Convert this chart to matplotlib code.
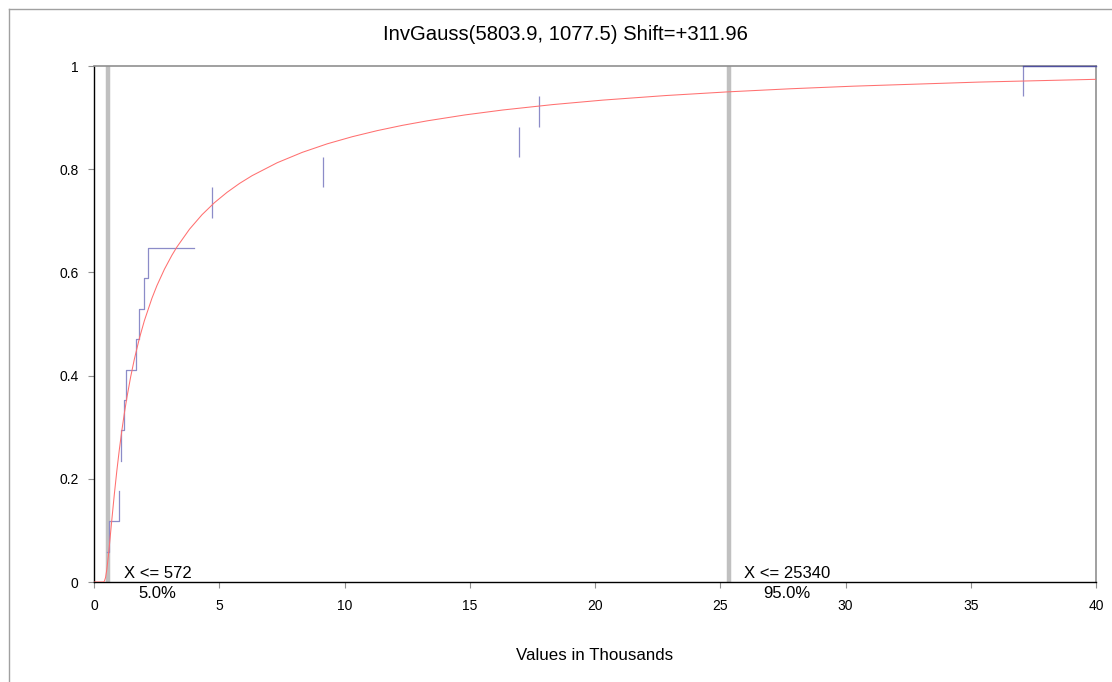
import matplotlib
matplotlib.use("Agg")
import matplotlib.pyplot as plt
from matplotlib.lines import Line2D

plt.rcParams['font.family'] = ['Liberation Sans', 'DejaVu Sans']

title = "InvGauss(5803.9, 1077.5) Shift=+311.96"
xlabel = "Values in Thousands"

# Fitted CDF (red), x in thousands
fit_x = [0, 0.312, 0.362, 0.412, 0.462, 0.512, 0.572, 0.612, 0.712, 0.812, 0.912,
         1.012, 1.112, 1.212, 1.312, 1.462, 1.612, 1.812, 2.012, 2.312, 2.512, 2.812, 3.112,
         3.312, 3.812, 4.312, 4.812, 5.312, 5.812, 6.312, 7.312, 8.312, 9.312, 10.312,
         11.312, 12.312, 13.312, 14.812, 16.312, 18.312, 20.312, 22.812, 25.312, 27.812,
         30.312, 35.312, 40]
fit_y = [0, 0, 0.0000, 0.0012, 0.0088, 0.0244, 0.0501, 0.0697, 0.1208, 0.1702, 0.2157,
         0.2568, 0.2938, 0.3271, 0.3572, 0.3972, 0.4321, 0.4723, 0.5066, 0.5498, 0.5744, 0.6062,
         0.6334, 0.6494, 0.6837, 0.7118, 0.7353, 0.7552, 0.7725, 0.7875, 0.8125, 0.8326, 0.8492,
         0.8630, 0.8748, 0.8850, 0.8938, 0.9052, 0.9147, 0.9252, 0.9339, 0.9427, 0.9499, 0.9559,
         0.9609, 0.9688, 0.9742]

# Empirical CDF (blue) visible step pieces
step1_x = [0.50, 0.60, 0.60, 1.01, 1.01]
step1_y = [0.0588, 0.0588, 0.1176, 0.1176, 0.1765]
step2_x = [1.09, 1.09, 1.18, 1.18, 1.27, 1.27, 1.37, 1.68, 1.68, 1.80, 1.80, 2.00, 2.00, 2.17, 2.17, 3.99]
step2_y = [0.2353, 0.2941, 0.2941, 0.3529, 0.3529, 0.4118, 0.4118, 0.4118, 0.4706, 0.4706,
           0.5294, 0.5294, 0.5882, 0.5882, 0.6471, 0.6471]
tick_x = [4.70, 9.15, 16.98, 17.78, 37.09]
tick_lo = [0.7059, 0.7647, 0.8235, 0.8824, 0.9412]
tick_hi = [0.7647, 0.8235, 0.8824, 0.9412, 1.0]
top_x = [37.09, 40]
top_y = [1.0, 1.0]

# Percentile markers
pct_x = [0.572, 25.340]
pct_labels = ["X <= 572", "X <= 25340"]
pct_values = ["5.0%", "95.0%"]
pct_text_x = [2.53, 27.66]

xticks = [0, 5, 10, 15, 20, 25, 30, 35, 40]
yticks = [0, 0.2, 0.4, 0.6, 0.8, 1]
yticklabels = ["0", "0.2", "0.4", "0.6", "0.8", "1"]

W, H = 1112, 682
fig = plt.figure(figsize=(W / 100, H / 100), dpi=100)
ax = fig.add_axes([94 / W, 1 - 582 / H, (1096 - 94) / W, (582 - 66) / H])

blue = '#8c8cc8'
for px in pct_x:
    ax.plot([px, px], [0, 1], color='#c0c0c0', lw=3.2, solid_capstyle='butt', zorder=1)

ax.plot(step1_x, step1_y, color=blue, lw=0.9, zorder=2)
ax.plot(step2_x, step2_y, color=blue, lw=0.9, zorder=2)
ax.vlines(tick_x, tick_lo, tick_hi, color=blue, lw=0.9, zorder=2)
ax.plot(top_x, top_y, color='#5050a0', lw=1.0, zorder=4, clip_on=False)
ax.plot(fit_x, fit_y, color='#ff7070', lw=0.75, zorder=3)

ax.set_xlim(0, 40)
ax.set_ylim(0, 1)
ax.set_xticks(xticks)
ax.set_xticklabels([str(v) for v in xticks])
ax.set_yticks(yticks)
ax.set_yticklabels(yticklabels)
ax.tick_params(axis='both', direction='out', length=4, width=0.8, color='#909090',
               labelsize=10, labelcolor='#000000')
ax.tick_params(axis='y', pad=7)
ax.tick_params(axis='x', pad=8)

for s in ['left', 'bottom']:
    ax.spines[s].set_color('black')
    ax.spines[s].set_linewidth(1.0)
for s in ['top', 'right']:
    ax.spines[s].set_color('#909090')
    ax.spines[s].set_linewidth(1.2)

for lab, val, tx in zip(pct_labels, pct_values, pct_text_x):
    ax.annotate(lab, xy=(tx, 0), xytext=(0, 8), textcoords='offset pixels',
                ha='center', va='center', fontsize=12)
    ax.annotate(val, xy=(tx, 0), xytext=(0, -11), textcoords='offset pixels',
                ha='center', va='center', fontsize=12, annotation_clip=False)

fig.text(565 / W, 1 - 34 / H, title, ha='center', va='center', fontsize=14.6)
fig.text(595 / W, 1 - 656 / H, xlabel, ha='center', va='center', fontsize=12.2)

# outer frame
fig.add_artist(Line2D([8.5 / W, 1.0], [1 - 9.3 / H, 1 - 9.3 / H], color='#a0a0a0', lw=1.0))
fig.add_artist(Line2D([8.5 / W, 8.5 / W], [0, 1 - 9.3 / H], color='#a0a0a0', lw=1.0))

fig.savefig('out.png', dpi=100)
